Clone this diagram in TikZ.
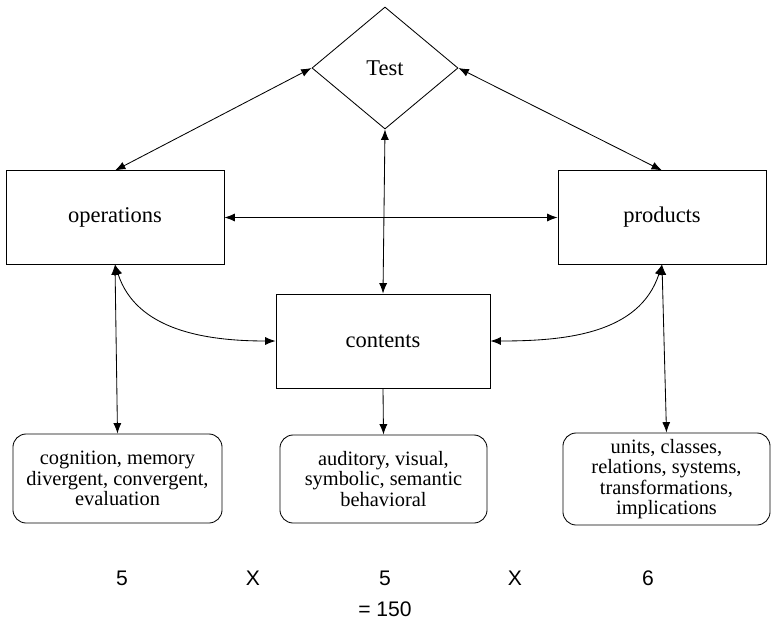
\documentclass[tikz,border=0pt]{standalone}
\usepackage{fontspec}
\setmainfont{Liberation Serif}
\newfontfamily\numfont{Liberation Sans}
\usepackage{tikz}
\usetikzlibrary{shapes.geometric,arrows.meta}

\tikzset{
  facet/.style={draw,line width=0.6pt,minimum height=2.33cm,font=\fontsize{16}{18}\selectfont},
  kinds/.style={draw,line width=0.6pt,rounded corners=0.33cm,align=center,font=\fontsize{14.5}{14.6}\selectfont},
  link/.style={line width=0.6pt,{Latex[length=2.6mm,width=2mm]}-{Latex[length=2.6mm,width=2mm]}},
  count/.style={inner sep=0pt,font=\numfont\fontsize{15}{17}\selectfont}
}

\begin{document}
\begin{tikzpicture}[x=0.025cm,y=-0.025cm]
    \useasboundingbox (0,0) rectangle (772,620);
    \node[draw,diamond,line width=0.6pt,minimum width=3.65cm,minimum height=3.05cm,
      inner sep=0pt,font=\fontsize{16}{18}\selectfont] (test) at (385,68) {Test};
    \node[facet,minimum width=5.45cm] (oper) at (115,217.5) {operations};
    \node[facet,minimum width=5.2cm] (prod) at (662,217.5) {products};
    \node[facet,minimum width=5.35cm,minimum height=2.35cm] (cont) at (383,341) {contents};
    \node[kinds,minimum width=5.225cm,minimum height=2.225cm] (operlist) at (117.5,478.5)
      {cognition, memory\\divergent, convergent,\\evaluation};
    \node[kinds,minimum width=5.175cm,minimum height=2.2cm] (contlist) at (383.5,479)
      {auditory, visual,\\symbolic, semantic\\behavioral};
    \node[kinds,minimum width=5.175cm,minimum height=2.3cm,inner sep=1pt] (prodlist) at (666.5,479)
      {units, classes,\\relations, systems,\\transformations,\\implications};
    \draw[link] (test.west) -- (oper.north);
    \draw[link] (test.east) -- (prod.north);
    \draw[link] (test.south) -- (cont.north);
    \draw[link] (oper.east) -- (prod.west);
    \draw[link] (oper.south) to[out=-72,in=180] (cont.west);
    \draw[link] (prod.south) to[out=-108,in=0] (cont.east);
    \draw[link] (oper.south) -- (operlist.north);
    \draw[link] (prod.south) -- (prodlist.north);
    \draw[line width=0.6pt,-{Latex[length=2.6mm,width=2mm]}] (cont.south) -- (contlist.north);
    \node[count] (n1) at (122,578) {5};
    \node[count] (x1) at (253,578) {X};
    \node[count] (n2) at (385,578) {5};
    \node[count] (x2) at (515,578) {X};
    \node[count] (n3) at (648,578) {6};
    \node[count] (total) at (385,609) {= 150};
  \end{tikzpicture}
\end{document}
